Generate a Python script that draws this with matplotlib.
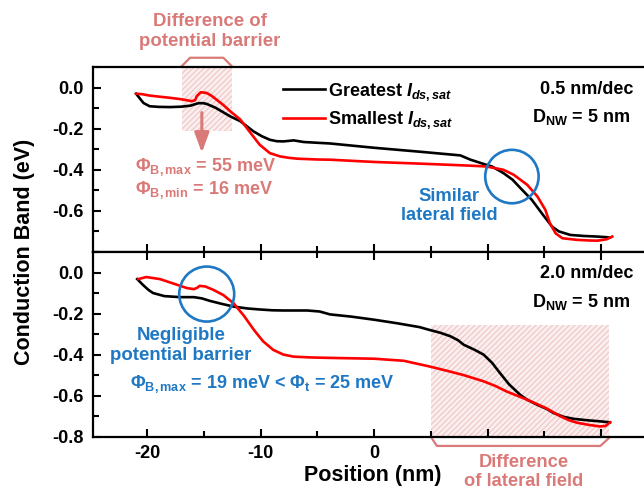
import numpy as np
import matplotlib.pyplot as plt
from matplotlib.patches import Rectangle, Ellipse
from matplotlib.ticker import MultipleLocator

plt.rcParams['font.family'] = ['Liberation Sans', 'DejaVu Sans']
plt.rcParams['font.weight'] = 'bold'
plt.rcParams['axes.labelweight'] = 'bold'
plt.rcParams['axes.unicode_minus'] = False
plt.rcParams['mathtext.fontset'] = 'custom'
plt.rcParams['mathtext.rm'] = 'Liberation Sans:bold'
plt.rcParams['mathtext.it'] = 'Liberation Sans:bold:italic'
plt.rcParams['mathtext.bf'] = 'Liberation Sans:bold'
plt.rcParams['hatch.linewidth'] = 0.8

# 0.5 nm/dec panel
top_x_great = [-21.0, -20.35, -19.8, -19.0, -18.0, -17.0, -16.2, -15.8, -15.5, -15.1, -14.8, -14.0,
               -12.7, -11.8, -10.65, -9.9, -9.2, -8.6, -8.0, -7.1, -6.2, -3.9, 0.0, 4.0,
               7.6, 8.5, 9.9, 10.4, 11.4, 12.2, 12.9, 13.9, 14.9, 15.7, 16.3, 17.3,
               18.5, 19.7, 20.5, 20.8]
top_y_great = [-0.03, -0.075, -0.091, -0.094, -0.095, -0.093, -0.088, -0.081, -0.076, -0.076, -0.079, -0.098,
               -0.14, -0.164, -0.213, -0.237, -0.254, -0.261, -0.262, -0.257, -0.265, -0.272, -0.293, -0.312,
               -0.330, -0.351, -0.376, -0.384, -0.416, -0.448, -0.489, -0.546, -0.62, -0.677, -0.70, -0.717,
               -0.722, -0.725, -0.728, -0.73]

top_x_small = [-21.0, -20.5, -19.8, -19.0, -18.0, -17.0, -16.1, -15.8, -15.65, -15.3, -14.8, -14.4,
               -13.9, -13.3, -12.7, -11.8, -10.9, -10.1, -9.2, -8.3, -7.5, -6.8, -5.0, -3.9,
               0.0, 4.0, 8.5, 9.9, 11.4, 12.3, 13.5, 14.4, 15.1, 15.5, 16.0, 16.6,
               17.9, 19.0, 19.7, 20.5, 21.0]
top_y_small = [-0.03, -0.032, -0.039, -0.044, -0.05, -0.057, -0.066, -0.062, -0.042, -0.023, -0.026, -0.038,
               -0.059, -0.085, -0.115, -0.156, -0.221, -0.278, -0.319, -0.335, -0.342, -0.346, -0.350, -0.351,
               -0.362, -0.370, -0.380, -0.384, -0.40, -0.424, -0.473, -0.53, -0.595, -0.66, -0.709, -0.733,
               -0.741, -0.744, -0.745, -0.738, -0.725]

# 2.0 nm/dec panel
bot_x_great = [-20.9, -20.4, -19.9, -19.5, -18.5, -17.1, -15.9, -15.2, -14.5, -13.5, -12.4, -11.2,
               -10.1, -9.0, -8.0, -7.0, -5.9, -4.8, -3.9, -2.0, 0.0, 2.0, 4.0, 4.9,
               5.8, 6.7, 7.4, 7.9, 8.8, 9.65, 10.4, 11.1, 11.9, 12.9, 13.5, 14.4,
               15.2, 15.8, 16.7, 17.6, 18.8, 19.9, 20.8]
bot_y_great = [-0.032, -0.06, -0.085, -0.10, -0.115, -0.12, -0.12, -0.126, -0.138, -0.152, -0.166, -0.175,
               -0.18, -0.184, -0.185, -0.185, -0.185, -0.19, -0.204, -0.215, -0.23, -0.247, -0.266, -0.28,
               -0.293, -0.31, -0.33, -0.352, -0.375, -0.40, -0.44, -0.49, -0.545, -0.597, -0.62, -0.645,
               -0.664, -0.684, -0.703, -0.713, -0.72, -0.725, -0.73]

bot_x_small = [-20.8, -20.1, -18.9, -17.8, -16.5, -15.9, -15.6, -15.4, -14.9, -14.2, -13.3, -12.4,
               -11.5, -10.6, -9.8, -8.9, -8.0, -7.1, -5.5, -3.9, 0.0, 2.6, 4.9, 6.5,
               7.9, 9.65, 10.7, 11.7, 12.6, 13.5, 14.4, 15.2, 16.4, 17.2, 17.9, 19.0,
               19.9, 20.4, 20.8]
bot_y_small = [-0.032, -0.022, -0.032, -0.052, -0.076, -0.081, -0.074, -0.065, -0.068, -0.084, -0.11, -0.15,
               -0.21, -0.28, -0.335, -0.377, -0.40, -0.41, -0.414, -0.416, -0.42, -0.43, -0.458, -0.48,
               -0.50, -0.53, -0.553, -0.58, -0.60, -0.62, -0.642, -0.662, -0.70, -0.72, -0.732, -0.743,
               -0.75, -0.748, -0.73]

x_ticks = [-20, -10, 0, 10, 20]
x_tick_labels = ['-20', '-10', '0', '', '']

salmon = '#d97a78'
blue = '#1f78c4'


def fx(px):
    return px / 644


def fy(py):
    return 1 - py / 493


fig = plt.figure(figsize=(6.44, 4.93), dpi=100)
ax1 = fig.add_axes([fx(93), fy(252), 551 / 644, 185 / 493])
ax2 = fig.add_axes([fx(93), fy(436.7), 551 / 644, 184.7 / 493])

for ax in (ax1, ax2):
    ax.set_xlim(-24.8, 23.8)
    ax.set_ylim(-0.8, 0.1)
    ax.spines['right'].set_visible(False)
    for s in ('left', 'top', 'bottom'):
        ax.spines[s].set_linewidth(1.6)
    ax.xaxis.set_major_locator(MultipleLocator(10))
    ax.xaxis.set_minor_locator(MultipleLocator(5))
    ax.yaxis.set_minor_locator(MultipleLocator(0.1))
    ax.tick_params(which='both', direction='in', width=1.5, labelsize=13, pad=7)
    ax.tick_params(which='major', length=6)
    ax.tick_params(which='minor', length=4)

ax1.set_yticks([0.0, -0.2, -0.4, -0.6])
ax1.set_yticklabels(['0.0', '-0.2', '-0.4', '-0.6'])
ax1.tick_params(axis='x', labelbottom=False)
ax2.set_yticks([0.0, -0.2, -0.4, -0.6, -0.8])
ax2.set_yticklabels(['0.0', '-0.2', '-0.4', '-0.6', '-0.8'])
ax2.set_xticks(x_ticks)
ax2.set_xticklabels(x_tick_labels)
ax2.tick_params(axis='x', which='both', top=True, pad=6)
ax1.set_ylim(-0.8, 0.1)
ax2.set_ylim(-0.8, 0.1)

ax1.plot(top_x_great, top_y_great, color='black', lw=1.9, label=r'Greatest $I_{ds,sat}$', zorder=3)
ax1.plot(top_x_small, top_y_small, color='red', lw=1.9, label=r'Smallest $I_{ds,sat}$', zorder=3)
ax2.plot(bot_x_great, bot_y_great, color='black', lw=1.9, zorder=3)
ax2.plot(bot_x_small, bot_y_small, color='red', lw=1.9, zorder=3)

ax1.legend(loc='upper left', bbox_to_anchor=(0.345, 0.925), frameon=False, fontsize=13,
           handlelength=2.3, handletextpad=0.2, labelspacing=0.35, borderpad=0, borderaxespad=0)

# shaded regions and brackets
ax1.add_patch(Rectangle((-16.97, -0.213), 4.41, 0.313, facecolor='#fbeeee', edgecolor='#efc6c6',
                        hatch='//////', lw=0, zorder=1))
ax1.plot([-16.97, -16.24, -13.30, -12.56], [0.104, 0.145, 0.145, 0.104], color=salmon, lw=1.6,
         clip_on=False)
ax2.add_patch(Rectangle((5.03, -0.8), 15.65, 0.545, facecolor='#fbeeee', edgecolor='#efc6c6',
                        hatch='//////', lw=0, zorder=1))
ax2.plot([5.09, 5.53, 19.95, 20.68], [-0.808, -0.845, -0.845, -0.808], color=salmon, lw=1.6,
         clip_on=False)

ax1.annotate('', xy=(-15.2, -0.317), xytext=(-15.2, -0.122),
             arrowprops=dict(arrowstyle='-|>,head_length=0.6,head_width=0.22', color=salmon, lw=2.2,
                             mutation_scale=20, shrinkA=0, shrinkB=0))

ax1.add_patch(Ellipse((12.15, -0.433), 4.71, 0.26, fill=False, edgecolor=blue, lw=1.9, zorder=4))
ax2.add_patch(Ellipse((-14.77, -0.105), 4.85, 0.268, fill=False, edgecolor=blue, lw=1.9, zorder=4))

# texts
fig.text(fx(210), fy(31.5), 'Difference of\npotential barrier', color=salmon, fontsize=13.4,
         ha='center', va='center', linespacing=1.2)
fig.text(fx(135), fy(167), r'$\Phi_{\mathrm{B,max}}$ = 55 meV', color=salmon, fontsize=13,
         ha='left', va='center')
fig.text(fx(135), fy(190), r'$\Phi_{\mathrm{B,min}}$ = 16 meV', color=salmon, fontsize=13,
         ha='left', va='center')
fig.text(fx(586.5), fy(90), '0.5 nm/dec', fontsize=13, ha='center', va='center')
fig.text(fx(581.5), fy(117), r'D$_{\mathrm{NW}}$ = 5 nm', fontsize=13, ha='center', va='center')
fig.text(fx(449), fy(206), 'Similar\nlateral field', color=blue, fontsize=13.2,
         ha='center', va='center', linespacing=1.2)
fig.text(fx(586.5), fy(273), '2.0 nm/dec', fontsize=13, ha='center', va='center')
fig.text(fx(581.5), fy(302), r'D$_{\mathrm{NW}}$ = 5 nm', fontsize=13, ha='center', va='center')
fig.text(fx(181), fy(345.5), 'Negligible\npotential barrier', color=blue, fontsize=13.4,
         ha='center', va='center', linespacing=1.2)
fig.text(fx(130), fy(384), r'$\Phi_{\mathrm{B,max}}$ = 19 meV < $\Phi_{\mathrm{t}}$ = 25 meV', color=blue,
         fontsize=13, ha='left', va='center')
fig.text(fx(524), fy(472), 'Difference\nof lateral field', color=salmon, fontsize=13.2,
         ha='center', va='center', linespacing=1.15)

fig.text(fx(25), fy(252), 'Conduction Band (eV)', rotation=90, fontsize=15.5, ha='center', va='center')
fig.text(fx(373), fy(475), 'Position (nm)', fontsize=15.5, ha='center', va='center')

fig.savefig('out.png', dpi=100)
